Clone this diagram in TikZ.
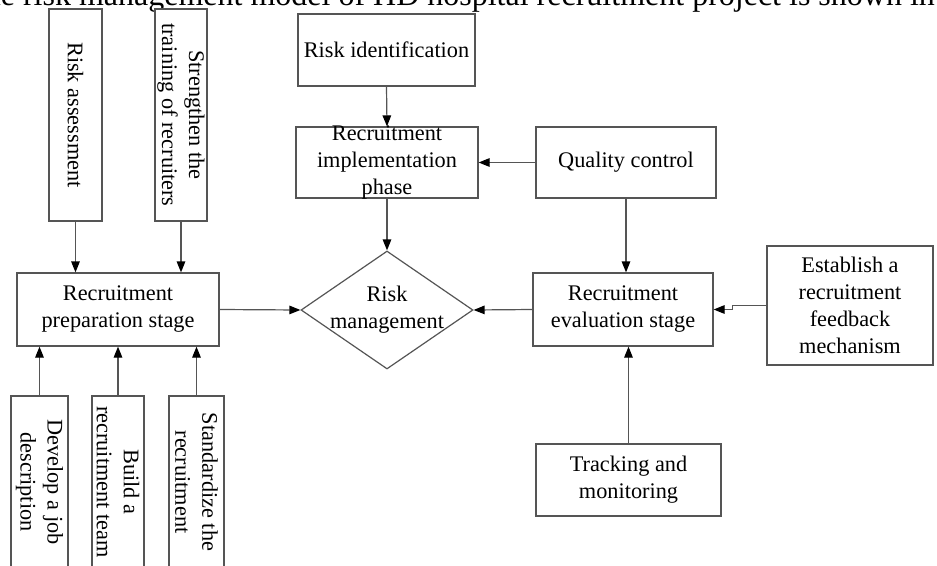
\documentclass[tikz,border=0pt]{standalone}
\usepackage{fontspec}
\setmainfont{Liberation Serif}
\usetikzlibrary{arrows.meta,shapes.geometric}
\definecolor{linecol}{RGB}{85,85,85}
\tikzset{
  box/.style={draw=linecol, line width=1.2pt, inner sep=0pt, align=center, fill=white,
              font=\fontsize{22.3}{27}\selectfont},
  txt/.style={inner sep=0pt, align=center, font=\fontsize{22.3}{27}\selectfont},
  arr/.style={draw=linecol, line width=1.2pt, -{Triangle[length=11pt,width=8.5pt,color=black]}},
  ln/.style={draw=linecol, line width=1.2pt}
}
\begin{document}
\begin{tikzpicture}[x=1pt,y=-1pt]
\useasboundingbox (0,0) rectangle (937,565);
\clip (0,0) rectangle (937,565);
\fill[white] (0,0) rectangle (937,565);
% title line (cut off at top)
\node[anchor=base east, inner sep=0pt, font=\fontsize{32}{38}\selectfont] (title) at (935,5)
  {The risk management model of HD hospital recruitment project is shown in};
% top rotated boxes
\node[box, rotate=-90, minimum width=212pt, minimum height=53pt] (ra) at (75.5,115) {Risk assessment};
\node[box, rotate=-90, minimum width=212pt, minimum height=52pt] (st) at (181,115) {Strengthen the\\training of recruiters};
% preparation stage
\node[box, minimum width=202pt, minimum height=73pt] (prep) at (118,309.5) {Recruitment\\preparation stage};
% bottom rotated boxes
\node[box, rotate=-90, minimum width=172pt, minimum height=57pt] (dev) at (39.5,482) {Develop a job\\description};
\node[box, rotate=-90, minimum width=172pt, minimum height=52pt] (bld) at (118,482) {Build a\\recruitment team};
\node[box, rotate=-90, minimum width=172pt, minimum height=55pt] (std) at (196.5,482) {Standardize the\\recruitment};
% middle column
\node[box, minimum width=177pt, minimum height=72pt] (rid) at (386.5,50) {Risk identification};
\node[box, minimum width=182pt, minimum height=71pt] (impl) at (387,162.5) {};
\node[txt] (impltxt) at (387,162) {Recruitment\\implementation\\phase};
\node[draw=linecol, line width=1.2pt, diamond, minimum width=172pt, minimum height=118pt, inner sep=0pt] (rm) at (387,310) {};
\node[txt] (rmtxt) at (387,310) {Risk\\management};
% right column
\node[box, minimum width=180pt, minimum height=71pt] (qc) at (626,162.5) {Quality control};
\node[box, minimum width=180pt, minimum height=73pt] (eval) at (623,309.5) {Recruitment\\evaluation stage};
\node[box, minimum width=166pt, minimum height=119pt] (fb) at (850,305.5) {Establish a\\recruitment\\feedback\\mechanism};
\node[box, minimum width=185pt, minimum height=72pt] (trk) at (628.5,480) {Tracking and\\monitoring};
% connectors
\draw[arr] (ra.east) -- (ra.east |- prep.north);
\draw[arr] (st.east) -- (st.east |- prep.north);
\draw[arr] (dev.west) -- (dev.west |- prep.south);
\draw[arr] (bld.west) -- (bld.west |- prep.south);
\draw[arr] (std.west) -- (std.west |- prep.south);
\draw[arr] (prep.east) -- (rm.west);
\draw[arr] (rid.south) -- (impl.north);
\draw[arr] (qc.west) -- (impl.east);
\draw[arr] (impl.south) -- (rm.north);
\draw[arr] (qc.south) -- (qc.south |- eval.north);
\draw[arr] (eval.west) -- (rm.east);
\draw[arr] (fb.west) -- ++(-34pt,0) |- (eval.east);
\draw[arr] (trk.north) -- (trk.north |- eval.south);
\end{tikzpicture}
\end{document}
